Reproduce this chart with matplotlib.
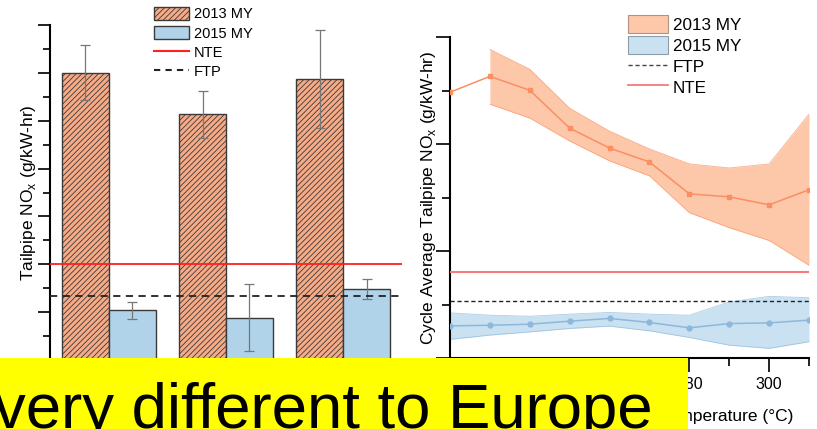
import matplotlib
matplotlib.use("Agg")
import matplotlib.pyplot as plt
from matplotlib.patches import Patch, Rectangle
from matplotlib.lines import Line2D
from matplotlib.ticker import MultipleLocator, NullFormatter, FuncFormatter
import numpy as np

plt.rcParams['font.family'] = ['Liberation Sans', 'DejaVu Sans']
plt.rcParams['hatch.linewidth'] = 0.6
plt.rcParams['hatch.color'] = '#5a4a40'

# ---- bar chart data: tailpipe NOx per vehicle group ----
groups = ["A", "B", "C"]
nox_2013 = [1.20, 1.026, 1.174]
err_2013 = [0.115, 0.098, 0.204]
nox_2015 = [0.208, 0.176, 0.296]
err_2015 = [0.035, 0.140, 0.041]
nte_limit = 0.40
ftp_limit = 0.268

# ---- temperature sweep data ----
temps = [220, 230, 240, 250, 260, 270, 280, 290, 300, 310]
mean_2013 = [1.242, 1.316, 1.251, 1.074, 0.981, 0.916, 0.767, 0.753, 0.716, 0.786]
band_temps_2013 = [230, 240, 250, 260, 270, 280, 290, 300, 310]
upper_2013 = [1.442, 1.349, 1.167, 1.060, 0.977, 0.907, 0.888, 0.907, 1.140]
lower_2013 = [1.186, 1.121, 1.014, 0.921, 0.851, 0.679, 0.609, 0.549, 0.433]
mean_2015 = [0.150, 0.153, 0.158, 0.172, 0.185, 0.166, 0.141, 0.161, 0.164, 0.177]
upper_2015 = [0.211, 0.200, 0.195, 0.205, 0.213, 0.205, 0.200, 0.262, 0.288, 0.282]
lower_2015 = [0.087, 0.107, 0.122, 0.138, 0.149, 0.127, 0.096, 0.060, 0.045, 0.076]
labelled_temps = [280, 300]

W, H = 817, 429
fig = plt.figure(figsize=(W / 100, H / 100), dpi=100)

def px_axes(x0, y_top, x1, y_bot):
    return fig.add_axes([x0 / W, 1 - y_bot / H, (x1 - x0) / W, (y_bot - y_top) / H])

bar_orange = '#F7AA86'
bar_blue = '#B0D3EA'
edge = '#3a3a3a'

# ---------------- left: bar chart ----------------
ax1 = px_axes(50, 25, 402, 360)
x = np.arange(len(groups))
bw = 0.4
ax1.bar(x - bw / 2, nox_2013, bw, color=bar_orange, edgecolor=edge, linewidth=1.0,
        hatch='//////', zorder=2)
ax1.bar(x + bw / 2, nox_2015, bw, color=bar_blue, edgecolor=edge, linewidth=1.0, zorder=2)
ax1.errorbar(x - bw / 2, nox_2013, yerr=err_2013, fmt='none', ecolor='#777777',
             elinewidth=0.9, capsize=3.5, capthick=0.9, zorder=3)
ax1.errorbar(x + bw / 2, nox_2015, yerr=err_2015, fmt='none', ecolor='#777777',
             elinewidth=0.9, capsize=3.5, capthick=0.9, zorder=3)
ax1.axhline(nte_limit, color='#FF2020', lw=1.3, zorder=4)
ax1.axhline(ftp_limit, color='#222222', lw=1.3, ls=(0, (4, 3)), zorder=4)
ax1.set_xlim(-0.5, 2.5)
ax1.set_ylim(0, 1.4)
ax1.yaxis.set_major_locator(MultipleLocator(0.2))
ax1.yaxis.set_minor_locator(MultipleLocator(0.1))
ax1.yaxis.set_major_formatter(NullFormatter())
ax1.tick_params(axis='y', which='major', direction='out', length=9, width=1.3, color='#111111')
ax1.tick_params(axis='y', which='minor', direction='out', length=5, width=1.3, color='#111111')
ax1.set_xticks([])
for s in ['top', 'right', 'bottom']:
    ax1.spines[s].set_visible(False)
ax1.spines['left'].set_linewidth(1.5)
ax1.set_ylabel('Tailpipe NO$_\\mathregular{x}$ (g/kW-hr)', fontsize=12.5)
ax1.yaxis.set_label_coords(-12 / 352, 0.5)

h1 = [Patch(facecolor=bar_orange, edgecolor=edge, hatch='//////', linewidth=1.0),
      Patch(facecolor=bar_blue, edgecolor=edge, linewidth=1.0),
      Line2D([], [], color='#FF2020', lw=1.5),
      Line2D([], [], color='#222222', lw=1.5, ls=(0, (3, 2.5)))]
ax1.legend(h1, ['2013 MY', '2015 MY', 'NTE', 'FTP'], loc='upper left',
           bbox_to_anchor=(151 / W, 1 - 4 / H), bbox_transform=fig.transFigure,
           frameon=False, fontsize=10.5, handlelength=2.4, handleheight=1.0,
           handletextpad=0.35, labelspacing=0.32, borderpad=0.2, borderaxespad=0)

# ---------------- right: temperature sweep ----------------
ax2 = px_axes(450, 37, 809, 358)
c13_line, c13_fill = '#F98F63', '#FDC7AA'
c15_line, c15_fill = '#8DB8DC', '#C9E1F1'
ax2.fill_between(band_temps_2013, lower_2013, upper_2013, color=c13_fill, lw=0, zorder=1)
ax2.plot(band_temps_2013, upper_2013, color=c13_line, lw=0.6, alpha=0.7, zorder=2)
ax2.plot(band_temps_2013, lower_2013, color=c13_line, lw=0.6, alpha=0.7, zorder=2)
ax2.plot(temps, mean_2013, color=c13_line, lw=1.1, marker='s', ms=3, zorder=3)
ax2.fill_between(temps, lower_2015, upper_2015, color=c15_fill, lw=0, zorder=1)
ax2.plot(temps, upper_2015, color=c15_line, lw=0.6, alpha=0.7, zorder=2)
ax2.plot(temps, lower_2015, color=c15_line, lw=0.6, alpha=0.7, zorder=2)
ax2.plot(temps, mean_2015, color=c15_line, lw=1.1, marker='o', ms=3.5, zorder=3)
ax2.axhline(ftp_limit, color='#222222', lw=1.0, ls=(0, (3, 2)), zorder=4)
ax2.axhline(nte_limit, color='#F87A7A', lw=1.5, zorder=4)
ax2.set_xlim(220, 310)
ax2.set_ylim(0, 1.5)
ax2.xaxis.set_major_locator(MultipleLocator(20))
ax2.xaxis.set_minor_locator(MultipleLocator(10))
ax2.xaxis.set_major_formatter(
    FuncFormatter(lambda v, p: f'{v:.0f}' if round(v) in labelled_temps else ''))
ax2.yaxis.set_major_locator(MultipleLocator(0.5))
ax2.yaxis.set_minor_locator(MultipleLocator(0.25))
ax2.yaxis.set_major_formatter(NullFormatter())
ax2.tick_params(axis='both', which='major', direction='out', length=10, width=1.3,
                color='#111111', labelsize=11.5)
ax2.tick_params(axis='both', which='minor', direction='out', length=6, width=1.3,
                color='#111111')
ax2.tick_params(axis='x', pad=4)
for s in ['top', 'right']:
    ax2.spines[s].set_visible(False)
ax2.spines['left'].set_linewidth(1.5)
ax2.spines['bottom'].set_linewidth(1.5)
ax2.set_ylabel('Cycle Average Tailpipe NO$_\\mathregular{x}$ (g/kW-hr)', fontsize=12.5)
ax2.yaxis.set_label_coords(-12 / 359, 0.5)
ax2.set_xlabel('Temperature (°C)', fontsize=12.5, ha='right')
ax2.xaxis.set_label_coords((793 - 450) / 359, -0.16)

h2 = [Patch(facecolor=c13_fill, edgecolor='#B89080', linewidth=0.8),
      Patch(facecolor=c15_fill, edgecolor='#8C9CA8', linewidth=0.8),
      Line2D([], [], color='#444444', lw=1.0, ls=(0, (3, 2))),
      Line2D([], [], color='#F87A7A', lw=1.3)]
ax2.legend(h2, ['2013 MY', '2015 MY', 'FTP', 'NTE'], loc='upper left',
           bbox_to_anchor=(625 / W, 1 - 12 / H), bbox_transform=fig.transFigure,
           frameon=False, fontsize=12.3, handlelength=2.3, handleheight=1.2,
           handletextpad=0.3, labelspacing=0.2, borderpad=0.2, borderaxespad=0)

# ---------------- caption banner ----------------
fig.patches.append(Rectangle((0, 0), 688 / W, 71 / H, transform=fig.transFigure,
                             facecolor='#FFFF00', edgecolor='none', zorder=10))
fig.text(-6 / W, 1 - 428 / H, 'very different to Europe', fontsize=45.7, color='black',
         ha='left', va='baseline', zorder=11)

fig.savefig('out.png', dpi=100)
